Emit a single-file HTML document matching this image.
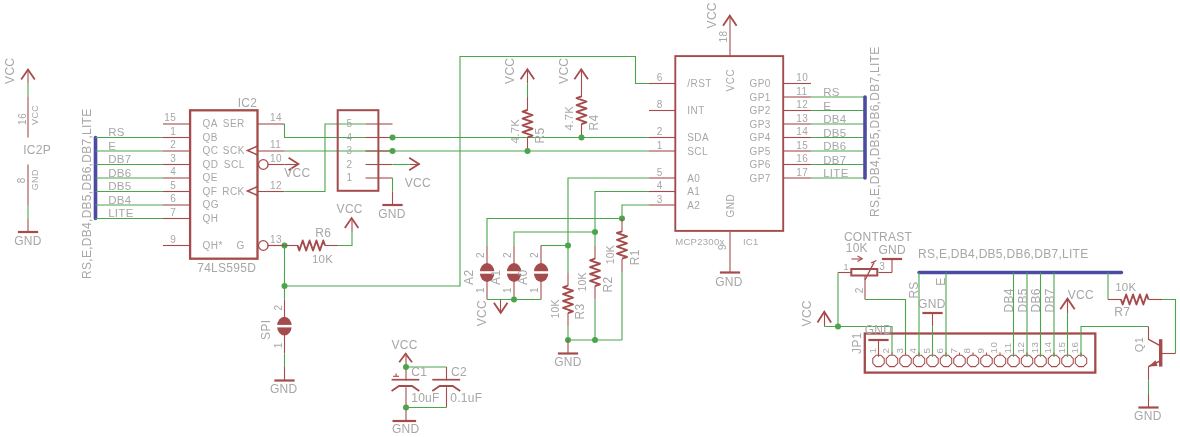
<!DOCTYPE html>
<html><head><meta charset="utf-8"><style>
html,body{margin:0;padding:0;background:#fff;}
svg{display:block;will-change:transform;font-family:"Liberation Sans",sans-serif;}

</style></head><body>
<svg width="1180" height="437" viewBox="0 0 1180 437">
<rect width="1180" height="437" fill="#fff"/>
<text transform="translate(14.4,83.9) rotate(-90)" font-size="12" fill="#a7a7a7" text-anchor="start" letter-spacing="0.28">VCC</text>
<line x1="28.0" y1="70.0" x2="28.0" y2="83.5" stroke="#a54b4b" stroke-width="1.1"/>
<line x1="28.0" y1="83.5" x2="28.0" y2="97.0" stroke="#4ba54b" stroke-width="1.1"/>
<line x1="28.0" y1="97.0" x2="28.0" y2="137.5" stroke="#a54b4b" stroke-width="1.1"/>
<polyline points="21.2,79.5 28,69.5 34.8,79.5" fill="none" stroke="#a54b4b" stroke-width="1.8" stroke-linejoin="miter"/>
<text transform="translate(25.6,124.9) rotate(-90)" font-size="10" fill="#a7a7a7" text-anchor="start" letter-spacing="0.5">16</text>
<text transform="translate(37.8,124.9) rotate(-90)" font-size="9" fill="#a7a7a7" text-anchor="start" letter-spacing="0.3">VCC</text>
<text x="23.2" y="153.8" font-size="12" fill="#a7a7a7" text-anchor="start" letter-spacing="0.28">IC2P</text>
<line x1="28.0" y1="164.5" x2="28.0" y2="205.0" stroke="#a54b4b" stroke-width="1.1"/>
<line x1="28.0" y1="205.0" x2="28.0" y2="218.5" stroke="#4ba54b" stroke-width="1.1"/>
<line x1="28.0" y1="218.5" x2="28.0" y2="232.0" stroke="#a54b4b" stroke-width="1.1"/>
<line x1="17.875" y1="232.0" x2="38.125" y2="232.0" stroke="#a54b4b" stroke-width="2.2"/>
<text x="14.2" y="245" font-size="12" fill="#a7a7a7" text-anchor="start" letter-spacing="0.28">GND</text>
<text transform="translate(25.2,183.3) rotate(-90)" font-size="10" fill="#a7a7a7" text-anchor="start" letter-spacing="0.5">8</text>
<text transform="translate(37.8,190.2) rotate(-90)" font-size="9" fill="#a7a7a7" text-anchor="start" letter-spacing="0.3">GND</text>
<line x1="95.5" y1="137.5" x2="95.5" y2="218.5" stroke="#4b4ba5" stroke-width="3.6" stroke-linecap="round"/>
<text transform="translate(91,278.9) rotate(-90)" font-size="12" fill="#a7a7a7" text-anchor="start" letter-spacing="0.28">RS,E,DB4,DB5,DB6,DB7,LITE</text>
<line x1="163.0" y1="124.0" x2="190.0" y2="124.0" stroke="#a54b4b" stroke-width="1.1"/>
<text x="176.3" y="121.2" font-size="10" fill="#a7a7a7" text-anchor="end" letter-spacing="0.5">15</text>
<line x1="163.0" y1="137.5" x2="190.0" y2="137.5" stroke="#a54b4b" stroke-width="1.1"/>
<text x="176.3" y="134.7" font-size="10" fill="#a7a7a7" text-anchor="end" letter-spacing="0.5">1</text>
<line x1="95.5" y1="137.5" x2="163.0" y2="137.5" stroke="#4ba54b" stroke-width="1.1"/>
<text x="108.2" y="136.2" font-size="11.5" fill="#a7a7a7" text-anchor="start" letter-spacing="0.28">RS</text>
<line x1="163.0" y1="151.0" x2="190.0" y2="151.0" stroke="#a54b4b" stroke-width="1.1"/>
<text x="176.3" y="148.2" font-size="10" fill="#a7a7a7" text-anchor="end" letter-spacing="0.5">2</text>
<line x1="95.5" y1="151.0" x2="163.0" y2="151.0" stroke="#4ba54b" stroke-width="1.1"/>
<text x="108.2" y="149.7" font-size="11.5" fill="#a7a7a7" text-anchor="start" letter-spacing="0.28">E</text>
<line x1="163.0" y1="164.5" x2="190.0" y2="164.5" stroke="#a54b4b" stroke-width="1.1"/>
<text x="176.3" y="161.7" font-size="10" fill="#a7a7a7" text-anchor="end" letter-spacing="0.5">3</text>
<line x1="95.5" y1="164.5" x2="163.0" y2="164.5" stroke="#4ba54b" stroke-width="1.1"/>
<text x="108.2" y="163.2" font-size="11.5" fill="#a7a7a7" text-anchor="start" letter-spacing="0.28">DB7</text>
<line x1="163.0" y1="178.0" x2="190.0" y2="178.0" stroke="#a54b4b" stroke-width="1.1"/>
<text x="176.3" y="175.2" font-size="10" fill="#a7a7a7" text-anchor="end" letter-spacing="0.5">4</text>
<line x1="95.5" y1="178.0" x2="163.0" y2="178.0" stroke="#4ba54b" stroke-width="1.1"/>
<text x="108.2" y="176.7" font-size="11.5" fill="#a7a7a7" text-anchor="start" letter-spacing="0.28">DB6</text>
<line x1="163.0" y1="191.5" x2="190.0" y2="191.5" stroke="#a54b4b" stroke-width="1.1"/>
<text x="176.3" y="188.7" font-size="10" fill="#a7a7a7" text-anchor="end" letter-spacing="0.5">5</text>
<line x1="95.5" y1="191.5" x2="163.0" y2="191.5" stroke="#4ba54b" stroke-width="1.1"/>
<text x="108.2" y="190.2" font-size="11.5" fill="#a7a7a7" text-anchor="start" letter-spacing="0.28">DB5</text>
<line x1="163.0" y1="205.0" x2="190.0" y2="205.0" stroke="#a54b4b" stroke-width="1.1"/>
<text x="176.3" y="202.2" font-size="10" fill="#a7a7a7" text-anchor="end" letter-spacing="0.5">6</text>
<line x1="95.5" y1="205.0" x2="163.0" y2="205.0" stroke="#4ba54b" stroke-width="1.1"/>
<text x="108.2" y="203.7" font-size="11.5" fill="#a7a7a7" text-anchor="start" letter-spacing="0.28">DB4</text>
<line x1="163.0" y1="218.5" x2="190.0" y2="218.5" stroke="#a54b4b" stroke-width="1.1"/>
<text x="176.3" y="215.7" font-size="10" fill="#a7a7a7" text-anchor="end" letter-spacing="0.5">7</text>
<line x1="95.5" y1="218.5" x2="163.0" y2="218.5" stroke="#4ba54b" stroke-width="1.1"/>
<text x="108.2" y="217.2" font-size="11.5" fill="#a7a7a7" text-anchor="start" letter-spacing="0.28">LITE</text>
<line x1="163.0" y1="245.5" x2="190.0" y2="245.5" stroke="#a54b4b" stroke-width="1.1"/>
<text x="176.3" y="242.7" font-size="10" fill="#a7a7a7" text-anchor="end" letter-spacing="0.5">9</text>
<rect x="190.1" y="110.3" width="67.4" height="148.39999999999998" fill="none" stroke="#a54b4b" stroke-width="2.3"/>
<text x="202.4" y="127.3" font-size="10" fill="#a7a7a7" text-anchor="start" letter-spacing="0.5">QA</text>
<text x="244.8" y="127.3" font-size="10" fill="#a7a7a7" text-anchor="end" letter-spacing="0.5">SER</text>
<text x="202.4" y="140.8" font-size="10" fill="#a7a7a7" text-anchor="start" letter-spacing="0.5">QB</text>
<text x="202.4" y="154.3" font-size="10" fill="#a7a7a7" text-anchor="start" letter-spacing="0.5">QC</text>
<text x="244.8" y="154.3" font-size="10" fill="#a7a7a7" text-anchor="end" letter-spacing="0.5">SCK</text>
<text x="202.4" y="167.8" font-size="10" fill="#a7a7a7" text-anchor="start" letter-spacing="0.5">QD</text>
<text x="244.8" y="167.8" font-size="10" fill="#a7a7a7" text-anchor="end" letter-spacing="0.5">SCL</text>
<text x="202.4" y="181.3" font-size="10" fill="#a7a7a7" text-anchor="start" letter-spacing="0.5">QE</text>
<text x="202.4" y="194.8" font-size="10" fill="#a7a7a7" text-anchor="start" letter-spacing="0.5">QF</text>
<text x="244.8" y="194.8" font-size="10" fill="#a7a7a7" text-anchor="end" letter-spacing="0.5">RCK</text>
<text x="202.4" y="208.3" font-size="10" fill="#a7a7a7" text-anchor="start" letter-spacing="0.5">QG</text>
<text x="202.4" y="221.8" font-size="10" fill="#a7a7a7" text-anchor="start" letter-spacing="0.5">QH</text>
<text x="202.4" y="248.8" font-size="10" fill="#a7a7a7" text-anchor="start" letter-spacing="0.5">QH*</text>
<text x="244.8" y="248.8" font-size="10" fill="#a7a7a7" text-anchor="end" letter-spacing="0.5">G</text>
<text x="237.7" y="106.5" font-size="12" fill="#a7a7a7" text-anchor="start" letter-spacing="0.28">IC2</text>
<text x="197.2" y="272" font-size="12" fill="#a7a7a7" text-anchor="start" letter-spacing="0.28">74LS595D</text>
<line x1="257.5" y1="124.0" x2="284.5" y2="124.0" stroke="#a54b4b" stroke-width="1.1"/>
<text x="270.0" y="121.2" font-size="10" fill="#a7a7a7" text-anchor="start" letter-spacing="0.5">14</text>
<line x1="257.5" y1="151.0" x2="284.5" y2="151.0" stroke="#a54b4b" stroke-width="1.1"/>
<text x="270.0" y="148.2" font-size="10" fill="#a7a7a7" text-anchor="start" letter-spacing="0.5">11</text>
<line x1="267.625" y1="164.5" x2="284.5" y2="164.5" stroke="#a54b4b" stroke-width="1.1"/>
<text x="270.0" y="161.7" font-size="10" fill="#a7a7a7" text-anchor="start" letter-spacing="0.5">10</text>
<line x1="257.5" y1="191.5" x2="284.5" y2="191.5" stroke="#a54b4b" stroke-width="1.1"/>
<text x="270.0" y="188.7" font-size="10" fill="#a7a7a7" text-anchor="start" letter-spacing="0.5">12</text>
<line x1="267.625" y1="245.5" x2="284.5" y2="245.5" stroke="#a54b4b" stroke-width="1.1"/>
<text x="270.0" y="242.7" font-size="10" fill="#a7a7a7" text-anchor="start" letter-spacing="0.5">13</text>
<polyline points="257.7,146.0 247.5,150.5 257.7,155.0" fill="none" stroke="#a54b4b" stroke-width="1.6" stroke-linejoin="miter"/>
<polyline points="257.7,186.5 247.5,191 257.7,195.5" fill="none" stroke="#a54b4b" stroke-width="1.6" stroke-linejoin="miter"/>
<circle cx="263.3" cy="164.5" r="4.8" fill="none" stroke="#a54b4b" stroke-width="1.3"/>
<circle cx="263.3" cy="245.5" r="4.8" fill="none" stroke="#a54b4b" stroke-width="1.3"/>
<polyline points="284.5,124.0 284.5,137.5 392.5,137.5 649.0,137.5" fill="none" stroke="#4ba54b" stroke-width="1.1" stroke-linejoin="miter"/>
<polyline points="284.5,151.0 649.0,151.0" fill="none" stroke="#4ba54b" stroke-width="1.1" stroke-linejoin="miter"/>
<line x1="284.5" y1="164.5" x2="298.0" y2="164.5" stroke="#a54b4b" stroke-width="1.1"/>
<polyline points="288.6,157.7 298.4,164 288.6,170.3" fill="none" stroke="#a54b4b" stroke-width="1.8" stroke-linejoin="miter"/>
<text x="284.2" y="177" font-size="12" fill="#a7a7a7" text-anchor="start" letter-spacing="0.28">VCC</text>
<polyline points="284.5,191.5 325.0,191.5 325.0,124.0 365.5,124.0" fill="none" stroke="#4ba54b" stroke-width="1.1" stroke-linejoin="miter"/>
<line x1="365.5" y1="124.0" x2="392.5" y2="124.0" stroke="#a54b4b" stroke-width="1.1"/>
<text x="349.5" y="127.2" font-size="10" fill="#a7a7a7" text-anchor="middle" letter-spacing="0.5">5</text>
<line x1="365.5" y1="137.5" x2="392.5" y2="137.5" stroke="#a54b4b" stroke-width="1.1"/>
<text x="349.5" y="140.7" font-size="10" fill="#a7a7a7" text-anchor="middle" letter-spacing="0.5">4</text>
<line x1="365.5" y1="151.0" x2="392.5" y2="151.0" stroke="#a54b4b" stroke-width="1.1"/>
<text x="349.5" y="154.2" font-size="10" fill="#a7a7a7" text-anchor="middle" letter-spacing="0.5">3</text>
<line x1="365.5" y1="164.5" x2="392.5" y2="164.5" stroke="#a54b4b" stroke-width="1.1"/>
<text x="349.5" y="167.7" font-size="10" fill="#a7a7a7" text-anchor="middle" letter-spacing="0.5">2</text>
<line x1="365.5" y1="178.0" x2="392.5" y2="178.0" stroke="#a54b4b" stroke-width="1.1"/>
<text x="349.5" y="181.2" font-size="10" fill="#a7a7a7" text-anchor="middle" letter-spacing="0.5">1</text>
<rect x="337.7" y="110.2" width="40.69999999999999" height="80.60000000000001" fill="none" stroke="#a54b4b" stroke-width="2.0"/>
<circle cx="392.5" cy="137.5" r="3.0" fill="#4ba54b"/>
<circle cx="392.5" cy="151.0" r="3.0" fill="#4ba54b"/>
<polyline points="392.5,164.5 409.38,164.5" fill="none" stroke="#4ba54b" stroke-width="1.1" stroke-linejoin="miter"/>
<line x1="409.375" y1="164.5" x2="419.5" y2="164.5" stroke="#a54b4b" stroke-width="1.1"/>
<polyline points="409.2,157.7 419,164 409.2,170.3" fill="none" stroke="#a54b4b" stroke-width="1.8" stroke-linejoin="miter"/>
<text x="404.7" y="186.5" font-size="12" fill="#a7a7a7" text-anchor="start" letter-spacing="0.28">VCC</text>
<polyline points="392.5,178.0 392.5,191.5" fill="none" stroke="#4ba54b" stroke-width="1.1" stroke-linejoin="miter"/>
<line x1="392.5" y1="191.5" x2="392.5" y2="205.0" stroke="#a54b4b" stroke-width="1.1"/>
<line x1="382.375" y1="205.0" x2="402.625" y2="205.0" stroke="#a54b4b" stroke-width="2.2"/>
<text x="378.2" y="217.8" font-size="12" fill="#a7a7a7" text-anchor="start" letter-spacing="0.28">GND</text>
<circle cx="284.5" cy="245.5" r="3.0" fill="#4ba54b"/>
<line x1="267.625" y1="245.5" x2="298.0" y2="245.5" stroke="#a54b4b" stroke-width="1.1"/>
<polyline points="297.6,245.5 299.31,250.5 302.74,240.5 306.16,250.5 309.59,240.5 313.01,250.5 316.44,240.5 319.86,250.5 323.29,240.5 325,245.5" fill="none" stroke="#a54b4b" stroke-width="1.9" stroke-linejoin="round"/>
<line x1="325.0" y1="245.5" x2="338.5" y2="245.5" stroke="#a54b4b" stroke-width="1.1"/>
<polyline points="338.5,245.5 352.0,245.5 352.0,232.0" fill="none" stroke="#4ba54b" stroke-width="1.1" stroke-linejoin="miter"/>
<line x1="352.0" y1="232.0" x2="352.0" y2="218.5" stroke="#a54b4b" stroke-width="1.1"/>
<polyline points="344.8,228 351.6,218 358.4,228" fill="none" stroke="#a54b4b" stroke-width="1.8" stroke-linejoin="miter"/>
<text x="315.2" y="237" font-size="12" fill="#a7a7a7" text-anchor="start" letter-spacing="0.28">R6</text>
<text x="311.9" y="262.9" font-size="11.5" fill="#a7a7a7" text-anchor="start" letter-spacing="0.28">10K</text>
<text x="336.6" y="213" font-size="12" fill="#a7a7a7" text-anchor="start" letter-spacing="0.28">VCC</text>
<polyline points="284.5,245.5 284.5,299.5" fill="none" stroke="#4ba54b" stroke-width="1.1" stroke-linejoin="miter"/>
<circle cx="284.5" cy="286.0" r="3.0" fill="#4ba54b"/>
<polyline points="284.5,286.0 460.0,286.0 460.0,56.5 635.5,56.5 635.5,83.5 649.0,83.5" fill="none" stroke="#4ba54b" stroke-width="1.1" stroke-linejoin="miter"/>
<line x1="284.5" y1="299.5" x2="284.5" y2="353.5" stroke="#a54b4b" stroke-width="1.1"/>
<ellipse cx="284.4" cy="326.2" rx="7.3" ry="9.4" fill="#a54b4b"/>
<rect x="275.4" y="324.9" width="19" height="2.5" fill="#ffffff"/>
<polyline points="284.5,353.5 284.5,367.0" fill="none" stroke="#4ba54b" stroke-width="1.1" stroke-linejoin="miter"/>
<line x1="284.5" y1="367.0" x2="284.5" y2="380.5" stroke="#a54b4b" stroke-width="1.1"/>
<line x1="274.375" y1="380.5" x2="294.625" y2="380.5" stroke="#a54b4b" stroke-width="2.2"/>
<text x="270.0" y="393" font-size="12" fill="#a7a7a7" text-anchor="start" letter-spacing="0.28">GND</text>
<text transform="translate(270.2,339.9) rotate(-90)" font-size="12" fill="#a7a7a7" text-anchor="start" letter-spacing="0.28">SPI</text>
<text transform="translate(281.7,310.6) rotate(-90)" font-size="10" fill="#a7a7a7" text-anchor="start" letter-spacing="0.5">2</text>
<text transform="translate(281.7,348.2) rotate(-90)" font-size="10" fill="#a7a7a7" text-anchor="start" letter-spacing="0.5">1</text>
<polyline points="520.6,79.3 527.4,69.3 534.2,79.3" fill="none" stroke="#a54b4b" stroke-width="1.8" stroke-linejoin="miter"/>
<line x1="527.5" y1="70.0" x2="527.5" y2="83.5" stroke="#a54b4b" stroke-width="1.1"/>
<polyline points="527.5,83.5 527.5,97.0" fill="none" stroke="#4ba54b" stroke-width="1.1" stroke-linejoin="miter"/>
<line x1="527.5" y1="97.0" x2="527.5" y2="110.5" stroke="#a54b4b" stroke-width="1.1"/>
<polyline points="527.5,110 522.5,111.71 532.5,115.12 522.5,118.53 532.5,121.94 522.5,125.36 532.5,128.77 522.5,132.18 532.5,135.59 527.5,137.3" fill="none" stroke="#a54b4b" stroke-width="1.9" stroke-linejoin="round"/>
<line x1="527.5" y1="137.5" x2="527.5" y2="151.0" stroke="#a54b4b" stroke-width="1.1"/>
<circle cx="527.5" cy="151.0" r="3.0" fill="#4ba54b"/>
<text transform="translate(514,83.9) rotate(-90)" font-size="12" fill="#a7a7a7" text-anchor="start" letter-spacing="0.28">VCC</text>
<text transform="translate(519,143.5) rotate(-90)" font-size="11.5" fill="#a7a7a7" text-anchor="start" letter-spacing="0.28">4.7K</text>
<text transform="translate(544.3,143.5) rotate(-90)" font-size="12" fill="#a7a7a7" text-anchor="start" letter-spacing="0.28">R5</text>
<polyline points="574.4,79.3 581.2,69.3 588.0,79.3" fill="none" stroke="#a54b4b" stroke-width="1.8" stroke-linejoin="miter"/>
<line x1="581.5" y1="70.0" x2="581.5" y2="97.0" stroke="#a54b4b" stroke-width="1.1"/>
<polyline points="581.5,96.4 576.5,98.12 586.5,101.58 576.5,105.03 586.5,108.48 576.5,111.92 586.5,115.38 576.5,118.83 586.5,122.28 581.5,124" fill="none" stroke="#a54b4b" stroke-width="1.9" stroke-linejoin="round"/>
<line x1="581.5" y1="124.0" x2="581.5" y2="137.5" stroke="#a54b4b" stroke-width="1.1"/>
<circle cx="581.5" cy="137.5" r="3.0" fill="#4ba54b"/>
<text transform="translate(568,83.9) rotate(-90)" font-size="12" fill="#a7a7a7" text-anchor="start" letter-spacing="0.28">VCC</text>
<text transform="translate(572.6,130.5) rotate(-90)" font-size="11.5" fill="#a7a7a7" text-anchor="start" letter-spacing="0.28">4.7K</text>
<text transform="translate(597.8,130.5) rotate(-90)" font-size="12" fill="#a7a7a7" text-anchor="start" letter-spacing="0.28">R4</text>
<rect x="675.3" y="56.1" width="107.90000000000009" height="174.8" fill="none" stroke="#a54b4b" stroke-width="1.9"/>
<line x1="649.0" y1="83.5" x2="676.0" y2="83.5" stroke="#a54b4b" stroke-width="1.1"/>
<text x="659.8" y="81.0" font-size="10" fill="#a7a7a7" text-anchor="middle" letter-spacing="0.5">6</text>
<text x="687.2" y="87.1" font-size="10" fill="#a7a7a7" text-anchor="start" letter-spacing="0.5">/RST</text>
<line x1="649.0" y1="110.5" x2="676.0" y2="110.5" stroke="#a54b4b" stroke-width="1.1"/>
<text x="659.8" y="108.0" font-size="10" fill="#a7a7a7" text-anchor="middle" letter-spacing="0.5">8</text>
<text x="687.2" y="114.1" font-size="10" fill="#a7a7a7" text-anchor="start" letter-spacing="0.5">INT</text>
<line x1="649.0" y1="137.5" x2="676.0" y2="137.5" stroke="#a54b4b" stroke-width="1.1"/>
<text x="659.8" y="135.0" font-size="10" fill="#a7a7a7" text-anchor="middle" letter-spacing="0.5">2</text>
<text x="687.2" y="141.10000000000002" font-size="10" fill="#a7a7a7" text-anchor="start" letter-spacing="0.5">SDA</text>
<line x1="649.0" y1="151.0" x2="676.0" y2="151.0" stroke="#a54b4b" stroke-width="1.1"/>
<text x="659.8" y="148.5" font-size="10" fill="#a7a7a7" text-anchor="middle" letter-spacing="0.5">1</text>
<text x="687.2" y="154.60000000000002" font-size="10" fill="#a7a7a7" text-anchor="start" letter-spacing="0.5">SCL</text>
<line x1="649.0" y1="178.0" x2="676.0" y2="178.0" stroke="#a54b4b" stroke-width="1.1"/>
<text x="659.8" y="175.5" font-size="10" fill="#a7a7a7" text-anchor="middle" letter-spacing="0.5">5</text>
<text x="687.2" y="181.60000000000002" font-size="10" fill="#a7a7a7" text-anchor="start" letter-spacing="0.5">A0</text>
<line x1="649.0" y1="191.5" x2="676.0" y2="191.5" stroke="#a54b4b" stroke-width="1.1"/>
<text x="659.8" y="189.0" font-size="10" fill="#a7a7a7" text-anchor="middle" letter-spacing="0.5">4</text>
<text x="687.2" y="195.10000000000002" font-size="10" fill="#a7a7a7" text-anchor="start" letter-spacing="0.5">A1</text>
<line x1="649.0" y1="205.0" x2="676.0" y2="205.0" stroke="#a54b4b" stroke-width="1.1"/>
<text x="659.8" y="202.5" font-size="10" fill="#a7a7a7" text-anchor="middle" letter-spacing="0.5">3</text>
<text x="687.2" y="208.60000000000002" font-size="10" fill="#a7a7a7" text-anchor="start" letter-spacing="0.5">A2</text>
<line x1="784.0" y1="83.5" x2="811.0" y2="83.5" stroke="#a54b4b" stroke-width="1.1"/>
<text x="796.2" y="81.0" font-size="10" fill="#a7a7a7" text-anchor="start" letter-spacing="0.5">10</text>
<text x="770.9" y="87.1" font-size="10" fill="#a7a7a7" text-anchor="end" letter-spacing="0.5">GP0</text>
<line x1="784.0" y1="97.0" x2="811.0" y2="97.0" stroke="#a54b4b" stroke-width="1.1"/>
<text x="796.2" y="94.5" font-size="10" fill="#a7a7a7" text-anchor="start" letter-spacing="0.5">11</text>
<text x="770.9" y="100.6" font-size="10" fill="#a7a7a7" text-anchor="end" letter-spacing="0.5">GP1</text>
<line x1="811.0" y1="97.0" x2="865.0" y2="97.0" stroke="#4ba54b" stroke-width="1.1"/>
<text x="823.2" y="96.0" font-size="11.5" fill="#a7a7a7" text-anchor="start" letter-spacing="0.28">RS</text>
<line x1="784.0" y1="110.5" x2="811.0" y2="110.5" stroke="#a54b4b" stroke-width="1.1"/>
<text x="796.2" y="108.0" font-size="10" fill="#a7a7a7" text-anchor="start" letter-spacing="0.5">12</text>
<text x="770.9" y="114.1" font-size="10" fill="#a7a7a7" text-anchor="end" letter-spacing="0.5">GP2</text>
<line x1="811.0" y1="110.5" x2="865.0" y2="110.5" stroke="#4ba54b" stroke-width="1.1"/>
<text x="823.2" y="109.5" font-size="11.5" fill="#a7a7a7" text-anchor="start" letter-spacing="0.28">E</text>
<line x1="784.0" y1="124.0" x2="811.0" y2="124.0" stroke="#a54b4b" stroke-width="1.1"/>
<text x="796.2" y="121.5" font-size="10" fill="#a7a7a7" text-anchor="start" letter-spacing="0.5">13</text>
<text x="770.9" y="127.6" font-size="10" fill="#a7a7a7" text-anchor="end" letter-spacing="0.5">GP3</text>
<line x1="811.0" y1="124.0" x2="865.0" y2="124.0" stroke="#4ba54b" stroke-width="1.1"/>
<text x="823.2" y="123.0" font-size="11.5" fill="#a7a7a7" text-anchor="start" letter-spacing="0.28">DB4</text>
<line x1="784.0" y1="137.5" x2="811.0" y2="137.5" stroke="#a54b4b" stroke-width="1.1"/>
<text x="796.2" y="135.0" font-size="10" fill="#a7a7a7" text-anchor="start" letter-spacing="0.5">14</text>
<text x="770.9" y="141.10000000000002" font-size="10" fill="#a7a7a7" text-anchor="end" letter-spacing="0.5">GP4</text>
<line x1="811.0" y1="137.5" x2="865.0" y2="137.5" stroke="#4ba54b" stroke-width="1.1"/>
<text x="823.2" y="136.5" font-size="11.5" fill="#a7a7a7" text-anchor="start" letter-spacing="0.28">DB5</text>
<line x1="784.0" y1="151.0" x2="811.0" y2="151.0" stroke="#a54b4b" stroke-width="1.1"/>
<text x="796.2" y="148.5" font-size="10" fill="#a7a7a7" text-anchor="start" letter-spacing="0.5">15</text>
<text x="770.9" y="154.60000000000002" font-size="10" fill="#a7a7a7" text-anchor="end" letter-spacing="0.5">GP5</text>
<line x1="811.0" y1="151.0" x2="865.0" y2="151.0" stroke="#4ba54b" stroke-width="1.1"/>
<text x="823.2" y="150.0" font-size="11.5" fill="#a7a7a7" text-anchor="start" letter-spacing="0.28">DB6</text>
<line x1="784.0" y1="164.5" x2="811.0" y2="164.5" stroke="#a54b4b" stroke-width="1.1"/>
<text x="796.2" y="162.0" font-size="10" fill="#a7a7a7" text-anchor="start" letter-spacing="0.5">16</text>
<text x="770.9" y="168.10000000000002" font-size="10" fill="#a7a7a7" text-anchor="end" letter-spacing="0.5">GP6</text>
<line x1="811.0" y1="164.5" x2="865.0" y2="164.5" stroke="#4ba54b" stroke-width="1.1"/>
<text x="823.2" y="163.5" font-size="11.5" fill="#a7a7a7" text-anchor="start" letter-spacing="0.28">DB7</text>
<line x1="784.0" y1="178.0" x2="811.0" y2="178.0" stroke="#a54b4b" stroke-width="1.1"/>
<text x="796.2" y="175.5" font-size="10" fill="#a7a7a7" text-anchor="start" letter-spacing="0.5">17</text>
<text x="770.9" y="181.60000000000002" font-size="10" fill="#a7a7a7" text-anchor="end" letter-spacing="0.5">GP7</text>
<line x1="811.0" y1="178.0" x2="865.0" y2="178.0" stroke="#4ba54b" stroke-width="1.1"/>
<text x="823.2" y="177.0" font-size="11.5" fill="#a7a7a7" text-anchor="start" letter-spacing="0.28">LITE</text>
<line x1="865.0" y1="97.0" x2="865.0" y2="178.0" stroke="#4b4ba5" stroke-width="3.6" stroke-linecap="round"/>
<text transform="translate(878.5,216.9) rotate(-90)" font-size="12" fill="#a7a7a7" text-anchor="start" letter-spacing="0.28">RS,E,DB4,DB5,DB6,DB7,LITE</text>
<text transform="translate(734,91.5) rotate(-90)" font-size="10" fill="#a7a7a7" text-anchor="start" letter-spacing="0.5">VCC</text>
<text transform="translate(734,217.6) rotate(-90)" font-size="10" fill="#a7a7a7" text-anchor="start" letter-spacing="0.5">GND</text>
<line x1="730.0" y1="16.0" x2="730.0" y2="56.5" stroke="#a54b4b" stroke-width="1.1"/>
<polyline points="723.0,25.7 729.8,15.7 736.6,25.7" fill="none" stroke="#a54b4b" stroke-width="1.8" stroke-linejoin="miter"/>
<text transform="translate(727,42.6) rotate(-90)" font-size="10" fill="#a7a7a7" text-anchor="start" letter-spacing="0.5">18</text>
<text transform="translate(716,28.4) rotate(-90)" font-size="12" fill="#a7a7a7" text-anchor="start" letter-spacing="0.28">VCC</text>
<line x1="730.0" y1="232.0" x2="730.0" y2="272.5" stroke="#a54b4b" stroke-width="1.1"/>
<line x1="719.875" y1="272.5" x2="740.125" y2="272.5" stroke="#a54b4b" stroke-width="2.2"/>
<text x="715.2" y="285.7" font-size="12" fill="#a7a7a7" text-anchor="start" letter-spacing="0.28">GND</text>
<text transform="translate(726,249.9) rotate(-90)" font-size="10" fill="#a7a7a7" text-anchor="start" letter-spacing="0.5">9</text>
<text x="675.2" y="245" font-size="9.5" fill="#a7a7a7" text-anchor="start" letter-spacing="0.3">MCP2300x</text>
<text x="742.9" y="245" font-size="9.5" fill="#a7a7a7" text-anchor="start" letter-spacing="0.3">IC1</text>
<polyline points="649.0,178.0 568.0,178.0 568.0,272.5" fill="none" stroke="#4ba54b" stroke-width="1.1" stroke-linejoin="miter"/>
<polyline points="649.0,191.5 595.0,191.5 595.0,245.5" fill="none" stroke="#4ba54b" stroke-width="1.1" stroke-linejoin="miter"/>
<polyline points="649.0,205.0 622.0,205.0 622.0,218.5" fill="none" stroke="#4ba54b" stroke-width="1.1" stroke-linejoin="miter"/>
<polyline points="622.0,218.5 487.0,218.5 487.0,245.5" fill="none" stroke="#4ba54b" stroke-width="1.1" stroke-linejoin="miter"/>
<polyline points="595.0,232.0 514.0,232.0 514.0,245.5" fill="none" stroke="#4ba54b" stroke-width="1.1" stroke-linejoin="miter"/>
<polyline points="568.0,245.5 541.0,245.5" fill="none" stroke="#4ba54b" stroke-width="1.1" stroke-linejoin="miter"/>
<circle cx="622.0" cy="218.5" r="3.0" fill="#4ba54b"/>
<circle cx="595.0" cy="232.0" r="3.0" fill="#4ba54b"/>
<circle cx="568.0" cy="245.5" r="3.0" fill="#4ba54b"/>
<line x1="622.0" y1="218.5" x2="622.0" y2="232.0" stroke="#a54b4b" stroke-width="1.1"/>
<polyline points="622.0,231.3 617.0,233.01 627.0,236.44 617.0,239.86 627.0,243.29 617.0,246.71 627.0,250.14 617.0,253.56 627.0,256.99 622.0,258.7" fill="none" stroke="#a54b4b" stroke-width="1.9" stroke-linejoin="round"/>
<line x1="622.0" y1="259.0" x2="622.0" y2="272.5" stroke="#a54b4b" stroke-width="1.1"/>
<polyline points="622.0,272.5 622.0,340.0" fill="none" stroke="#4ba54b" stroke-width="1.1" stroke-linejoin="miter"/>
<text transform="translate(613.6,264.2) rotate(-90)" font-size="10.5" fill="#a7a7a7" text-anchor="start" letter-spacing="0.1">10K</text>
<text transform="translate(638.8,265.2) rotate(-90)" font-size="12" fill="#a7a7a7" text-anchor="start" letter-spacing="0.28">R1</text>
<line x1="595.0" y1="245.5" x2="595.0" y2="259.0" stroke="#a54b4b" stroke-width="1.1"/>
<polyline points="595.0,258.6 590.0,260.31 600.0,263.74 590.0,267.16 600.0,270.59 590.0,274.01 600.0,277.44 590.0,280.86 600.0,284.29 595.0,286.0" fill="none" stroke="#a54b4b" stroke-width="1.9" stroke-linejoin="round"/>
<line x1="595.0" y1="286.0" x2="595.0" y2="299.5" stroke="#a54b4b" stroke-width="1.1"/>
<polyline points="595.0,299.5 595.0,340.0" fill="none" stroke="#4ba54b" stroke-width="1.1" stroke-linejoin="miter"/>
<text transform="translate(586.3000000000001,291.5) rotate(-90)" font-size="10.5" fill="#a7a7a7" text-anchor="start" letter-spacing="0.1">10K</text>
<text transform="translate(611.5,292.5) rotate(-90)" font-size="12" fill="#a7a7a7" text-anchor="start" letter-spacing="0.28">R2</text>
<line x1="568.0" y1="272.5" x2="568.0" y2="286.0" stroke="#a54b4b" stroke-width="1.1"/>
<polyline points="568.0,285.6 563.0,287.31 573.0,290.74 563.0,294.16 573.0,297.59 563.0,301.01 573.0,304.44 563.0,307.86 573.0,311.29 568.0,313.0" fill="none" stroke="#a54b4b" stroke-width="1.9" stroke-linejoin="round"/>
<line x1="568.0" y1="313.0" x2="568.0" y2="326.5" stroke="#a54b4b" stroke-width="1.1"/>
<polyline points="568.0,326.5 568.0,340.0" fill="none" stroke="#4ba54b" stroke-width="1.1" stroke-linejoin="miter"/>
<text transform="translate(559.1,318.5) rotate(-90)" font-size="10.5" fill="#a7a7a7" text-anchor="start" letter-spacing="0.1">10K</text>
<text transform="translate(584.3,319.5) rotate(-90)" font-size="12" fill="#a7a7a7" text-anchor="start" letter-spacing="0.28">R3</text>
<polyline points="568.0,340.0 622.0,340.0" fill="none" stroke="#4ba54b" stroke-width="1.1" stroke-linejoin="miter"/>
<circle cx="568.0" cy="340.0" r="3.0" fill="#4ba54b"/>
<circle cx="595.0" cy="340.0" r="3.0" fill="#4ba54b"/>
<line x1="568.0" y1="340.0" x2="568.0" y2="353.5" stroke="#a54b4b" stroke-width="1.1"/>
<line x1="557.875" y1="353.5" x2="578.125" y2="353.5" stroke="#a54b4b" stroke-width="2.2"/>
<text x="554.2" y="365.6" font-size="12" fill="#a7a7a7" text-anchor="start" letter-spacing="0.28">GND</text>
<line x1="487.0" y1="245.5" x2="487.0" y2="299.5" stroke="#a54b4b" stroke-width="1.1"/>
<ellipse cx="487.1" cy="272.5" rx="7.3" ry="9.4" fill="#a54b4b"/>
<rect x="477.5" y="271.2" width="19" height="2.5" fill="#ffffff"/>
<text transform="translate(484.0,257.9) rotate(-90)" font-size="10" fill="#a7a7a7" text-anchor="start" letter-spacing="0.5">2</text>
<text transform="translate(484.0,292.9) rotate(-90)" font-size="10" fill="#a7a7a7" text-anchor="start" letter-spacing="0.5">1</text>
<text transform="translate(472.5,284.9) rotate(-90)" font-size="12" fill="#a7a7a7" text-anchor="start" letter-spacing="0.28">A2</text>
<line x1="514.0" y1="245.5" x2="514.0" y2="299.5" stroke="#a54b4b" stroke-width="1.1"/>
<ellipse cx="514.1" cy="272.5" rx="7.3" ry="9.4" fill="#a54b4b"/>
<rect x="504.5" y="271.2" width="19" height="2.5" fill="#ffffff"/>
<text transform="translate(511.0,257.9) rotate(-90)" font-size="10" fill="#a7a7a7" text-anchor="start" letter-spacing="0.5">2</text>
<text transform="translate(511.0,292.9) rotate(-90)" font-size="10" fill="#a7a7a7" text-anchor="start" letter-spacing="0.5">1</text>
<text transform="translate(499.5,284.9) rotate(-90)" font-size="12" fill="#a7a7a7" text-anchor="start" letter-spacing="0.28">A1</text>
<line x1="541.0" y1="245.5" x2="541.0" y2="299.5" stroke="#a54b4b" stroke-width="1.1"/>
<ellipse cx="541.1" cy="272.5" rx="7.3" ry="9.4" fill="#a54b4b"/>
<rect x="531.5" y="271.2" width="19" height="2.5" fill="#ffffff"/>
<text transform="translate(538.0,257.9) rotate(-90)" font-size="10" fill="#a7a7a7" text-anchor="start" letter-spacing="0.5">2</text>
<text transform="translate(538.0,292.9) rotate(-90)" font-size="10" fill="#a7a7a7" text-anchor="start" letter-spacing="0.5">1</text>
<text transform="translate(526.5,284.9) rotate(-90)" font-size="12" fill="#a7a7a7" text-anchor="start" letter-spacing="0.28">A0</text>
<polyline points="487.0,299.5 541.0,299.5" fill="none" stroke="#4ba54b" stroke-width="1.1" stroke-linejoin="miter"/>
<circle cx="514.0" cy="299.5" r="3.0" fill="#4ba54b"/>
<line x1="500.5" y1="299.5" x2="500.5" y2="313.0" stroke="#a54b4b" stroke-width="1.1"/>
<polyline points="493.9,302.8 500.7,312.8 507.5,302.8" fill="none" stroke="#a54b4b" stroke-width="1.8" stroke-linejoin="miter"/>
<text transform="translate(486,326.3) rotate(-90)" font-size="12" fill="#a7a7a7" text-anchor="start" letter-spacing="0.28">VCC</text>
<polyline points="399.2,362.2 405.6,353.7 412.0,362.2" fill="none" stroke="#a54b4b" stroke-width="1.8" stroke-linejoin="miter"/>
<line x1="406.0" y1="353.5" x2="406.0" y2="380.5" stroke="#a54b4b" stroke-width="1.1"/>
<line x1="391.6" y1="379.7" x2="419.3" y2="379.7" stroke="#a54b4b" stroke-width="1.7"/>
<polyline points="391.6,391 399,386 412,386 419.3,391" fill="none" stroke="#a54b4b" stroke-width="1.8" stroke-linejoin="miter"/>
<line x1="406.0" y1="387.25" x2="406.0" y2="421.0" stroke="#a54b4b" stroke-width="1.1"/>
<line x1="392.5" y1="421.0" x2="416.125" y2="421.0" stroke="#a54b4b" stroke-width="2.2"/>
<circle cx="406.0" cy="367.0" r="3.0" fill="#4ba54b"/>
<circle cx="406.0" cy="407.5" r="3.0" fill="#4ba54b"/>
<polyline points="406.0,367.0 446.5,367.0" fill="none" stroke="#4ba54b" stroke-width="1.1" stroke-linejoin="miter"/>
<line x1="446.5" y1="367.0" x2="446.5" y2="380.5" stroke="#a54b4b" stroke-width="1.1"/>
<line x1="432.3" y1="379.7" x2="460.2" y2="379.7" stroke="#a54b4b" stroke-width="1.7"/>
<polyline points="432.3,391 439.7,386 452.7,386 460.2,391" fill="none" stroke="#a54b4b" stroke-width="1.8" stroke-linejoin="miter"/>
<line x1="446.5" y1="387.25" x2="446.5" y2="407.5" stroke="#a54b4b" stroke-width="1.1"/>
<polyline points="446.5,407.5 406.0,407.5" fill="none" stroke="#4ba54b" stroke-width="1.1" stroke-linejoin="miter"/>
<line x1="393.1" y1="376.3" x2="399" y2="376.3" stroke="#a54b4b" stroke-width="1.1"/>
<line x1="396.1" y1="373.4" x2="396.1" y2="376.3" stroke="#a54b4b" stroke-width="1.1"/>
<text x="411.2" y="376.3" font-size="12" fill="#a7a7a7" text-anchor="start" letter-spacing="0.28">C1</text>
<text x="451.0" y="376.3" font-size="12" fill="#a7a7a7" text-anchor="start" letter-spacing="0.28">C2</text>
<text x="411.2" y="402" font-size="12" fill="#a7a7a7" text-anchor="start" letter-spacing="0.28">10uF</text>
<text x="450.2" y="402" font-size="12" fill="#a7a7a7" text-anchor="start" letter-spacing="0.28">0.1uF</text>
<text x="391.5" y="348.6" font-size="12" fill="#a7a7a7" text-anchor="start" letter-spacing="0.28">VCC</text>
<text x="392.0" y="433" font-size="12" fill="#a7a7a7" text-anchor="start" letter-spacing="0.28">GND</text>
<rect x="851.3" y="269" width="26.0" height="6.5" fill="none" stroke="#a54b4b" stroke-width="2.0"/>
<line x1="838.0" y1="272.5" x2="851.5" y2="272.5" stroke="#a54b4b" stroke-width="1.1"/>
<polyline points="838.0,272.5 838.0,326.5" fill="none" stroke="#4ba54b" stroke-width="1.1" stroke-linejoin="miter"/>
<line x1="824.5" y1="313.0" x2="824.5" y2="326.5" stroke="#a54b4b" stroke-width="1.1"/>
<polyline points="817.5,322.6 824.3,311.8 831.1,322.6" fill="none" stroke="#a54b4b" stroke-width="1.8" stroke-linejoin="miter"/>
<polyline points="824.5,326.5 892.0,326.5 892.0,353.5" fill="none" stroke="#4ba54b" stroke-width="1.1" stroke-linejoin="miter"/>
<circle cx="838.0" cy="326.5" r="3.0" fill="#4ba54b"/>
<line x1="878.5" y1="272.5" x2="892.0" y2="272.5" stroke="#a54b4b" stroke-width="1.1"/>
<line x1="892.0" y1="272.5" x2="892.0" y2="259.0" stroke="#a54b4b" stroke-width="1.1"/>
<line x1="881.875" y1="259.0" x2="902.125" y2="259.0" stroke="#a54b4b" stroke-width="2.2"/>
<line x1="865.0" y1="275.875" x2="865.0" y2="299.5" stroke="#a54b4b" stroke-width="1.1"/>
<line x1="865" y1="280" x2="874.2" y2="262.1" stroke="#a54b4b" stroke-width="1.3"/>
<line x1="871" y1="263" x2="876.5" y2="260.5" stroke="#a54b4b" stroke-width="1.3"/>
<polyline points="865.0,299.5 905.5,299.5 905.5,353.5" fill="none" stroke="#4ba54b" stroke-width="1.1" stroke-linejoin="miter"/>
<line x1="851.5" y1="259.0" x2="861.625" y2="259.0" stroke="#a54b4b" stroke-width="1.1"/>
<polyline points="857.5,256 862.2,258.7 857.5,261.4" fill="none" stroke="#a54b4b" stroke-width="1.2" stroke-linejoin="miter"/>
<text x="843.5" y="269.9" font-size="9" fill="#a7a7a7" text-anchor="start" letter-spacing="0.3">1</text>
<text x="879.2" y="270" font-size="10" fill="#a7a7a7" text-anchor="start" letter-spacing="0.5">3</text>
<text transform="translate(863,293.2) rotate(-90)" font-size="10" fill="#a7a7a7" text-anchor="start" letter-spacing="0.5">2</text>
<text x="843.9" y="240.6" font-size="12" fill="#a7a7a7" text-anchor="start" letter-spacing="0.28">CONTRAST</text>
<text x="845.7" y="252.4" font-size="12" fill="#a7a7a7" text-anchor="start" letter-spacing="0.28">10K</text>
<text x="878.4" y="254.3" font-size="12" fill="#a7a7a7" text-anchor="start" letter-spacing="0.28">GND</text>
<text transform="translate(810.9,326.4) rotate(-90)" font-size="12" fill="#a7a7a7" text-anchor="start" letter-spacing="0.28">VCC</text>
<line x1="919.0" y1="272.5" x2="1121.5" y2="272.5" stroke="#4b4ba5" stroke-width="3.4" stroke-linecap="round"/>
<text x="918.1" y="258.3" font-size="12" fill="#a7a7a7" text-anchor="start" letter-spacing="0.28">RS,E,DB4,DB5,DB6,DB7,LITE</text>
<rect x="864.8" y="333.5" width="230.5" height="39.10000000000002" fill="none" stroke="#a54b4b" stroke-width="2.3"/>
<polygon points="884.23,363.27 880.87,366.63 876.13,366.63 872.77,363.27 872.77,358.53 876.13,355.17 880.87,355.17 884.23,358.53" fill="none" stroke="#a54b4b" stroke-width="1.05"/>
<line x1="878.5" y1="352.6" x2="878.5" y2="354.9" stroke="#a54b4b" stroke-width="1.1"/>
<text transform="translate(875.5,353.5) rotate(-90)" font-size="9.8" fill="#a7a7a7" text-anchor="start" letter-spacing="0.5">1</text>
<polygon points="897.73,363.27 894.37,366.63 889.63,366.63 886.27,363.27 886.27,358.53 889.63,355.17 894.37,355.17 897.73,358.53" fill="none" stroke="#a54b4b" stroke-width="1.05"/>
<line x1="892.0" y1="352.6" x2="892.0" y2="354.9" stroke="#a54b4b" stroke-width="1.1"/>
<text transform="translate(889.0,353.5) rotate(-90)" font-size="9.8" fill="#a7a7a7" text-anchor="start" letter-spacing="0.5">2</text>
<polygon points="911.23,363.27 907.87,366.63 903.13,366.63 899.77,363.27 899.77,358.53 903.13,355.17 907.87,355.17 911.23,358.53" fill="none" stroke="#a54b4b" stroke-width="1.05"/>
<line x1="905.5" y1="352.6" x2="905.5" y2="354.9" stroke="#a54b4b" stroke-width="1.1"/>
<text transform="translate(902.5,353.5) rotate(-90)" font-size="9.8" fill="#a7a7a7" text-anchor="start" letter-spacing="0.5">3</text>
<polygon points="924.73,363.27 921.37,366.63 916.63,366.63 913.27,363.27 913.27,358.53 916.63,355.17 921.37,355.17 924.73,358.53" fill="none" stroke="#a54b4b" stroke-width="1.05"/>
<line x1="919.0" y1="352.6" x2="919.0" y2="354.9" stroke="#a54b4b" stroke-width="1.1"/>
<text transform="translate(916.0,353.5) rotate(-90)" font-size="9.8" fill="#a7a7a7" text-anchor="start" letter-spacing="0.5">4</text>
<polygon points="938.23,363.27 934.87,366.63 930.13,366.63 926.77,363.27 926.77,358.53 930.13,355.17 934.87,355.17 938.23,358.53" fill="none" stroke="#a54b4b" stroke-width="1.05"/>
<line x1="932.5" y1="352.6" x2="932.5" y2="354.9" stroke="#a54b4b" stroke-width="1.1"/>
<text transform="translate(929.5,353.5) rotate(-90)" font-size="9.8" fill="#a7a7a7" text-anchor="start" letter-spacing="0.5">5</text>
<polygon points="951.73,363.27 948.37,366.63 943.63,366.63 940.27,363.27 940.27,358.53 943.63,355.17 948.37,355.17 951.73,358.53" fill="none" stroke="#a54b4b" stroke-width="1.05"/>
<line x1="946.0" y1="352.6" x2="946.0" y2="354.9" stroke="#a54b4b" stroke-width="1.1"/>
<text transform="translate(943.0,353.5) rotate(-90)" font-size="9.8" fill="#a7a7a7" text-anchor="start" letter-spacing="0.5">6</text>
<polygon points="965.23,363.27 961.87,366.63 957.13,366.63 953.77,363.27 953.77,358.53 957.13,355.17 961.87,355.17 965.23,358.53" fill="none" stroke="#a54b4b" stroke-width="1.05"/>
<line x1="959.5" y1="352.6" x2="959.5" y2="354.9" stroke="#a54b4b" stroke-width="1.1"/>
<text transform="translate(956.5,353.5) rotate(-90)" font-size="9.8" fill="#a7a7a7" text-anchor="start" letter-spacing="0.5">7</text>
<polygon points="978.73,363.27 975.37,366.63 970.63,366.63 967.27,363.27 967.27,358.53 970.63,355.17 975.37,355.17 978.73,358.53" fill="none" stroke="#a54b4b" stroke-width="1.05"/>
<line x1="973.0" y1="352.6" x2="973.0" y2="354.9" stroke="#a54b4b" stroke-width="1.1"/>
<text transform="translate(970.0,353.5) rotate(-90)" font-size="9.8" fill="#a7a7a7" text-anchor="start" letter-spacing="0.5">8</text>
<polygon points="992.23,363.27 988.87,366.63 984.13,366.63 980.77,363.27 980.77,358.53 984.13,355.17 988.87,355.17 992.23,358.53" fill="none" stroke="#a54b4b" stroke-width="1.05"/>
<line x1="986.5" y1="352.6" x2="986.5" y2="354.9" stroke="#a54b4b" stroke-width="1.1"/>
<text transform="translate(983.5,353.5) rotate(-90)" font-size="9.8" fill="#a7a7a7" text-anchor="start" letter-spacing="0.5">9</text>
<polygon points="1005.73,363.27 1002.37,366.63 997.63,366.63 994.27,363.27 994.27,358.53 997.63,355.17 1002.37,355.17 1005.73,358.53" fill="none" stroke="#a54b4b" stroke-width="1.05"/>
<line x1="1000.0" y1="352.6" x2="1000.0" y2="354.9" stroke="#a54b4b" stroke-width="1.1"/>
<text transform="translate(997.0,353.5) rotate(-90)" font-size="9.8" fill="#a7a7a7" text-anchor="start" letter-spacing="0.5">10</text>
<polygon points="1019.23,363.27 1015.87,366.63 1011.13,366.63 1007.77,363.27 1007.77,358.53 1011.13,355.17 1015.87,355.17 1019.23,358.53" fill="none" stroke="#a54b4b" stroke-width="1.05"/>
<line x1="1013.5" y1="352.6" x2="1013.5" y2="354.9" stroke="#a54b4b" stroke-width="1.1"/>
<text transform="translate(1010.5,353.5) rotate(-90)" font-size="9.8" fill="#a7a7a7" text-anchor="start" letter-spacing="0.5">11</text>
<polygon points="1032.73,363.27 1029.37,366.63 1024.63,366.63 1021.27,363.27 1021.27,358.53 1024.63,355.17 1029.37,355.17 1032.73,358.53" fill="none" stroke="#a54b4b" stroke-width="1.05"/>
<line x1="1027.0" y1="352.6" x2="1027.0" y2="354.9" stroke="#a54b4b" stroke-width="1.1"/>
<text transform="translate(1024.0,353.5) rotate(-90)" font-size="9.8" fill="#a7a7a7" text-anchor="start" letter-spacing="0.5">12</text>
<polygon points="1046.23,363.27 1042.87,366.63 1038.13,366.63 1034.77,363.27 1034.77,358.53 1038.13,355.17 1042.87,355.17 1046.23,358.53" fill="none" stroke="#a54b4b" stroke-width="1.05"/>
<line x1="1040.5" y1="352.6" x2="1040.5" y2="354.9" stroke="#a54b4b" stroke-width="1.1"/>
<text transform="translate(1037.5,353.5) rotate(-90)" font-size="9.8" fill="#a7a7a7" text-anchor="start" letter-spacing="0.5">13</text>
<polygon points="1059.73,363.27 1056.37,366.63 1051.63,366.63 1048.27,363.27 1048.27,358.53 1051.63,355.17 1056.37,355.17 1059.73,358.53" fill="none" stroke="#a54b4b" stroke-width="1.05"/>
<line x1="1054.0" y1="352.6" x2="1054.0" y2="354.9" stroke="#a54b4b" stroke-width="1.1"/>
<text transform="translate(1051.0,353.5) rotate(-90)" font-size="9.8" fill="#a7a7a7" text-anchor="start" letter-spacing="0.5">14</text>
<polygon points="1073.23,363.27 1069.87,366.63 1065.13,366.63 1061.77,363.27 1061.77,358.53 1065.13,355.17 1069.87,355.17 1073.23,358.53" fill="none" stroke="#a54b4b" stroke-width="1.05"/>
<line x1="1067.5" y1="352.6" x2="1067.5" y2="354.9" stroke="#a54b4b" stroke-width="1.1"/>
<text transform="translate(1064.5,353.5) rotate(-90)" font-size="9.8" fill="#a7a7a7" text-anchor="start" letter-spacing="0.5">15</text>
<polygon points="1086.73,363.27 1083.37,366.63 1078.63,366.63 1075.27,363.27 1075.27,358.53 1078.63,355.17 1083.37,355.17 1086.73,358.53" fill="none" stroke="#a54b4b" stroke-width="1.05"/>
<line x1="1081.0" y1="352.6" x2="1081.0" y2="354.9" stroke="#a54b4b" stroke-width="1.1"/>
<text transform="translate(1078.0,353.5) rotate(-90)" font-size="9.8" fill="#a7a7a7" text-anchor="start" letter-spacing="0.5">16</text>
<line x1="868.375" y1="340.0" x2="888.625" y2="340.0" stroke="#a54b4b" stroke-width="2.2"/>
<line x1="878.5" y1="340.0" x2="878.5" y2="356.875" stroke="#a54b4b" stroke-width="1.1"/>
<text x="864.7" y="334.4" font-size="12" fill="#a7a7a7" text-anchor="start" letter-spacing="0.28">GND</text>
<text transform="translate(860.6,353.9) rotate(-90)" font-size="12" fill="#a7a7a7" text-anchor="start" letter-spacing="0.28">JP1</text>
<polyline points="919.0,272.5 919.0,356.88" fill="none" stroke="#4ba54b" stroke-width="1.1" stroke-linejoin="miter"/>
<text transform="translate(918.3,298.6) rotate(-90)" font-size="12" fill="#a7a7a7" text-anchor="start" letter-spacing="0.28">RS</text>
<polyline points="946.0,272.5 946.0,356.88" fill="none" stroke="#4ba54b" stroke-width="1.1" stroke-linejoin="miter"/>
<text transform="translate(944.8,285.7) rotate(-90)" font-size="12" fill="#a7a7a7" text-anchor="start" letter-spacing="0.28">E</text>
<line x1="922.375" y1="313.0" x2="942.625" y2="313.0" stroke="#a54b4b" stroke-width="2.2"/>
<line x1="932.5" y1="313.0" x2="932.5" y2="326.5" stroke="#a54b4b" stroke-width="1.1"/>
<polyline points="932.5,326.5 932.5,356.88" fill="none" stroke="#4ba54b" stroke-width="1.1" stroke-linejoin="miter"/>
<text x="918.1" y="307.7" font-size="12" fill="#a7a7a7" text-anchor="start" letter-spacing="0.28">GND</text>
<polyline points="1013.5,272.5 1013.5,356.88" fill="none" stroke="#4ba54b" stroke-width="1.1" stroke-linejoin="miter"/>
<text transform="translate(1013.0,312.4) rotate(-90)" font-size="12" fill="#a7a7a7" text-anchor="start" letter-spacing="0.28">DB4</text>
<polyline points="1027.0,272.5 1027.0,356.88" fill="none" stroke="#4ba54b" stroke-width="1.1" stroke-linejoin="miter"/>
<text transform="translate(1026.5,312.4) rotate(-90)" font-size="12" fill="#a7a7a7" text-anchor="start" letter-spacing="0.28">DB5</text>
<polyline points="1040.5,272.5 1040.5,356.88" fill="none" stroke="#4ba54b" stroke-width="1.1" stroke-linejoin="miter"/>
<text transform="translate(1040.0,312.4) rotate(-90)" font-size="12" fill="#a7a7a7" text-anchor="start" letter-spacing="0.28">DB6</text>
<polyline points="1054.0,272.5 1054.0,356.88" fill="none" stroke="#4ba54b" stroke-width="1.1" stroke-linejoin="miter"/>
<text transform="translate(1053.5,312.4) rotate(-90)" font-size="12" fill="#a7a7a7" text-anchor="start" letter-spacing="0.28">DB7</text>
<line x1="1067.5" y1="299.5" x2="1067.5" y2="313.0" stroke="#a54b4b" stroke-width="1.1"/>
<polyline points="1067.5,313.0 1067.5,356.88" fill="none" stroke="#4ba54b" stroke-width="1.1" stroke-linejoin="miter"/>
<polyline points="1060.3,309.3 1067.5,298.7 1074.7,309.3" fill="none" stroke="#a54b4b" stroke-width="1.8" stroke-linejoin="miter"/>
<text x="1067.8" y="298.7" font-size="12" fill="#a7a7a7" text-anchor="start" letter-spacing="0.28">VCC</text>
<polyline points="1081.0,356.88 1081.0,326.5 1148.5,326.5" fill="none" stroke="#4ba54b" stroke-width="1.1" stroke-linejoin="miter"/>
<polyline points="1108.0,272.5 1108.0,299.5" fill="none" stroke="#4ba54b" stroke-width="1.1" stroke-linejoin="miter"/>
<line x1="1108.0" y1="299.5" x2="1121.5" y2="299.5" stroke="#a54b4b" stroke-width="1.1"/>
<polyline points="1121,299.5 1122.72,304.5 1126.16,294.5 1129.59,304.5 1133.03,294.5 1136.47,304.5 1139.91,294.5 1143.34,304.5 1146.78,294.5 1148.5,299.5" fill="none" stroke="#a54b4b" stroke-width="1.9" stroke-linejoin="round"/>
<line x1="1148.5" y1="299.5" x2="1162.0" y2="299.5" stroke="#a54b4b" stroke-width="1.1"/>
<polyline points="1162.0,299.5 1175.5,299.5 1175.5,353.5" fill="none" stroke="#4ba54b" stroke-width="1.1" stroke-linejoin="miter"/>
<line x1="1175.5" y1="353.5" x2="1162.0" y2="353.5" stroke="#a54b4b" stroke-width="1.1"/>
<text x="1115.2" y="291.2" font-size="11.5" fill="#a7a7a7" text-anchor="start" letter-spacing="0.28">10K</text>
<text x="1114.2" y="315.8" font-size="12" fill="#a7a7a7" text-anchor="start" letter-spacing="0.28">R7</text>
<line x1="1148.5" y1="326.5" x2="1148.5" y2="340.0" stroke="#a54b4b" stroke-width="1.1"/>
<line x1="1148.2" y1="339.2" x2="1160" y2="345.6" stroke="#a54b4b" stroke-width="1.4"/>
<line x1="1160.7" y1="339.2" x2="1160.7" y2="366.6" stroke="#a54b4b" stroke-width="3.4"/>
<line x1="1160" y1="361" x2="1148.2" y2="366.6" stroke="#a54b4b" stroke-width="1.4"/>
<polygon points="1148.5,366.6 1155.5,360.2 1157.5,366.0" fill="#a54b4b"/>
<line x1="1148.5" y1="367.0" x2="1148.5" y2="380.5" stroke="#a54b4b" stroke-width="1.1"/>
<polyline points="1148.5,380.5 1148.5,394.0" fill="none" stroke="#4ba54b" stroke-width="1.1" stroke-linejoin="miter"/>
<line x1="1148.5" y1="394.0" x2="1148.5" y2="407.5" stroke="#a54b4b" stroke-width="1.1"/>
<line x1="1138.375" y1="407.5" x2="1158.625" y2="407.5" stroke="#a54b4b" stroke-width="2.2"/>
<text x="1134.1" y="419.7" font-size="12" fill="#a7a7a7" text-anchor="start" letter-spacing="0.28">GND</text>
<text transform="translate(1142.8,352.3) rotate(-90)" font-size="11" fill="#a7a7a7" text-anchor="start" letter-spacing="0.6">Q1</text>
</svg></body></html>
